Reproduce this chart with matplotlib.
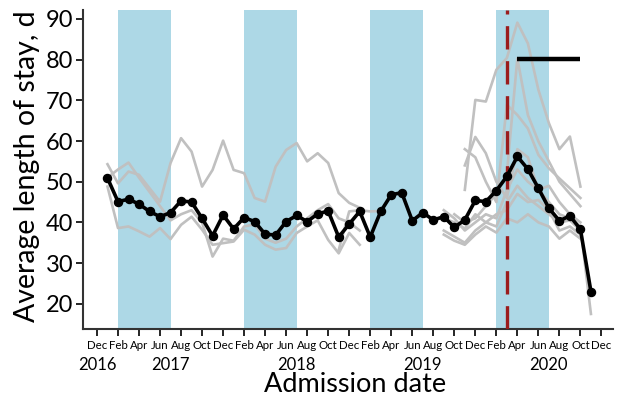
"""Average length of stay by admission month, with per-hospital traces."""

import matplotlib

matplotlib.use("Agg")
import matplotlib.pyplot as plt
import numpy as np

plt.rcParams["font.family"] = ["Lato", "DejaVu Sans"]

# Month index 0 = Dec 2016 ... 48 = Dec 2020
tick_months = list(range(0, 49, 2))
tick_labels = ["Dec", "Feb", "Apr", "Jun", "Aug", "Oct"] * 4 + ["Dec"]
year_labels = ["2016", "2017", "2018", "2019", "2020"]
year_months = [0, 7, 19, 31, 43]

# Shaded periods (Feb-Jul each year), red marker Mar 2020, bar Apr-Oct 2020
shade_start = [2, 14, 26, 38]
shade_end = [7, 19, 31, 43]
event_month = 39
bar_months = [40, 46]
bar_value = 80.2

# overall mean, Jan 2017 .. Nov 2020
mean_months = list(range(1, 48))
mean_los = [
    50.9, 45.1, 45.7, 44.5, 42.7, 41.4, 42.4, 45.3, 45.0, 41.0, 36.7, 41.8,
    38.4, 41.2, 40.2, 37.1, 36.9, 40.2, 41.7, 40.2, 42.1, 42.8, 36.4, 39.6,
    42.7, 36.4, 42.7, 46.8, 47.3, 40.4, 42.4, 40.6, 41.4, 38.8, 40.6, 45.4,
    45.1, 47.8, 51.3, 56.2, 53.1, 48.4, 43.5, 40.4, 41.6, 38.3, 23.0,
]

# individual hospitals (first month, values)
early_months = list(range(1, 26))
hosp_a = [48.8, 38.6, 39.0, 37.8, 36.5, 38.6, 35.9, 39.4, 41.4, 38.2, 34.5, 34.9,
          35.3, 38.2, 37.0, 34.5, 33.3, 33.7, 37.4, 39.0, 40.5, 35.7, 32.4, 37.4, 34.5]
hosp_b = [54.3, 49.6, 52.5, 51.7, 48.4, 45.1, 54.6, 60.7, 57.4, 48.8, 52.9, 60.1,
          52.9, 52.1, 46.0, 45.1, 53.7, 57.8, 59.5, 55.0, 57.0, 54.6, 47.2, 44.8, 43.6]
hosp_c = [51.0, 53.0, 54.7, 51.0, 47.5, 44.0, 40.5, 42.0, 43.0, 40.0, 31.6, 36.0,
          35.5, 39.0, 39.5, 36.0, 35.0, 36.0, 39.0, 41.0, 43.0, 44.5, 41.0, 40.0, 38.0]
hosp_d_months = [23, 24, 25, 26, 27]
hosp_d = [33.2, 42.7, 43.0, 42.7, 42.8]

late_months = list(range(33, 48))
nan = np.nan
hosp_late = [
    [nan, nan, 48.0, 70.1, 69.7, 77.5, 80.4, 89.1, 84.0, 72.6, 64.4, 58.0, 61.1, 48.8, nan],
    [nan, 42.0, 40.0, 41.0, 44.0, 47.0, 52.0, 80.3, 66.4, 59.9, 55.0, 50.0, 47.0, 44.0, nan],
    [nan, nan, 58.0, 56.0, 50.0, 45.0, 68.9, 66.4, 63.1, 56.6, 53.3, 50.8, 48.4, 46.0, nan],
    [nan, nan, 54.0, 61.0, 57.0, 50.0, 46.0, 58.0, 56.0, 48.0, 49.0, 45.0, 42.0, 40.0, nan],
    [43.0, 41.0, 38.0, 40.0, 42.0, 41.0, 48.0, 53.0, 50.0, 48.0, 45.0, 42.0, 41.0, 39.0, 17.5],
    [38.0, 36.5, 35.0, 38.0, 40.0, 39.0, 45.0, 49.0, 46.0, 44.0, 42.0, 40.0, 40.5, 38.0, nan],
    [37.0, 35.5, 34.5, 37.0, 39.0, 37.5, 41.0, 40.0, 42.0, 40.0, 39.0, 36.0, 38.0, 36.0, nan],
    [41.0, 40.0, 38.5, 42.0, 40.0, 42.0, 43.0, 47.0, 45.0, 45.5, 43.0, 38.0, 39.0, 37.0, nan],
]

W, H = 620, 403
fig = plt.figure(figsize=(W / 100, H / 100), dpi=100)
ax = fig.add_axes([83 / W, 1 - 329 / H, (613 - 83) / W, (329 - 10) / H])

for s, e in zip(shade_start, shade_end):
    ax.axvspan(s, e, color="#add8e6", lw=0, zorder=0)

grey = dict(color="#c0c0c0", lw=1.9, zorder=2)
for vals in (hosp_a, hosp_b, hosp_c):
    ax.plot(early_months, vals, **grey)
ax.plot(hosp_d_months, hosp_d, **grey)
for vals in hosp_late:
    ax.plot(late_months, vals, **grey)

ax.axvline(event_month, color="#9b1c1c", lw=2.4, dashes=(7, 3.5), zorder=3)
ax.plot(mean_months, mean_los, color="black", lw=2.6, marker="o", ms=5.8, zorder=4)
ax.plot(bar_months, [bar_value] * 2, color="black", lw=3.2, solid_capstyle="butt", zorder=4)

ax.set_xlim(-1.33, 49.1)
ax.set_ylim(13.8, 92.2)
ax.set_yticks(range(20, 91, 10))
ax.set_xticks(tick_months)
ax.set_xticklabels(tick_labels, fontsize=8.3)
ax.tick_params(axis="y", labelsize=17, length=5, width=1.2, pad=2)
ax.tick_params(axis="x", length=5, width=1.2, pad=3)
for side in ("top", "right"):
    ax.spines[side].set_visible(False)
for side in ("left", "bottom"):
    ax.spines[side].set_linewidth(1.5)
    ax.spines[side].set_color("#333333")

xt = ax.get_xaxis_transform()
for m, lab in zip(year_months, year_labels):
    ax.text(m, -0.113, lab, transform=xt, ha="center", va="center", fontsize=12)

fig.text(355 / W, 1 - 385 / H, "Admission date", ha="center", va="center", fontsize=19.5)
fig.text(27 / W, 1 - 322 / H, "Average length of stay, d", rotation=90,
         ha="center", va="bottom", fontsize=20.5)

fig.savefig("out.png", dpi=100)
